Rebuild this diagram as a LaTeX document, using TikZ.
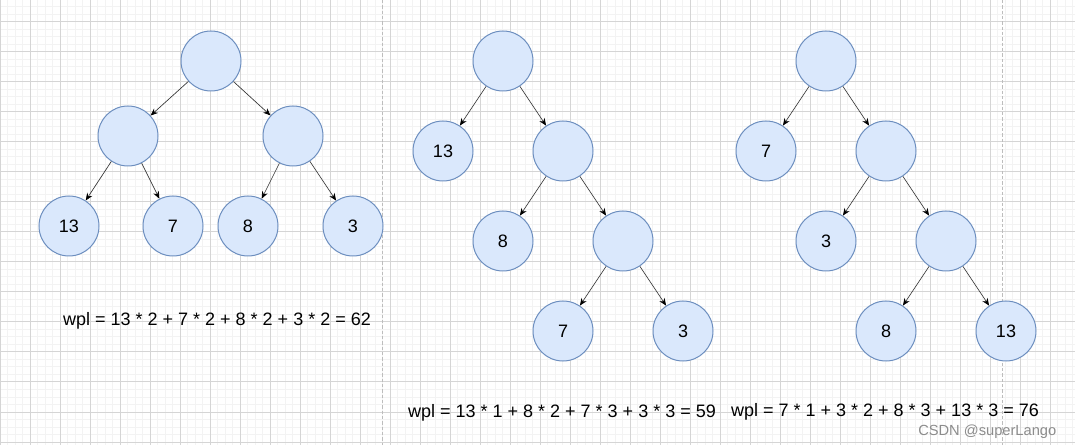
\documentclass[tikz,border=0pt]{standalone}
\usepackage{fontspec}
\setmainfont{Liberation Sans}
\usetikzlibrary{arrows.meta}
\definecolor{nodefill}{HTML}{DAE8FC}
\definecolor{nodeline}{HTML}{6C8EBF}
\definecolor{gridmajor}{HTML}{D5D5D5}
\definecolor{gridminor}{HTML}{F3F3F3}
\definecolor{pageline}{HTML}{BDBDBD}
\tikzset{
	hnode/.style={circle, draw=nodeline, fill=nodefill, line width=0.75pt, minimum size=45pt, inner sep=0pt, font=\fontsize{13.5}{16}\selectfont},
	edge/.style={->, draw=black!80, line width=0.5pt},
	wpl/.style={inner sep=0pt, font=\fontsize{13.5}{16}\selectfont}
}
\begin{document}
\begin{tikzpicture}[x=0.75pt, y=-0.75pt, line cap=butt, >={Stealth[length=5.5pt, width=4.5pt, black]}]
	\useasboundingbox (0,0) rectangle (1075,445);
	\fill[white] (0,0) rectangle (1075,445);
	% grid
	\foreach \gx in {0,7.5,...,1075} \draw[gridminor, line width=0.75pt] (\gx,0) -- (\gx,445);
	\foreach \gy in {-0.5,7,...,445} \draw[gridminor, line width=0.75pt] (0,\gy) -- (1075,\gy);
	\foreach \gx in {0,30,...,1075} \draw[gridmajor, line width=0.75pt] (\gx,0) -- (\gx,445);
	\foreach \gy in {22,52,...,445} \draw[gridmajor, line width=0.75pt] (0,\gy) -- (1075,\gy);
	\draw[pageline, line width=0.75pt, dash pattern=on 2.5pt off 1.5pt] (382,0) -- (382,445) (1002,0) -- (1002,445);
	% tree 1
	\node[hnode] (a0) at (211,61) {};
	\node[hnode] (a1) at (128,136) {};
	\node[hnode] (a2) at (293,136) {};
	\node[hnode] (a3) at (69,226) {13};
	\node[hnode] (a4) at (173,226) {7};
	\node[hnode] (a5) at (248,226) {8};
	\node[hnode] (a6) at (353,226) {3};
	\draw[edge] (a0) -- (a1);
	\draw[edge] (a0) -- (a2);
	\draw[edge] (a1) -- (a3);
	\draw[edge] (a1) -- (a4);
	\draw[edge] (a2) -- (a5);
	\draw[edge] (a2) -- (a6);
	% tree 2
	\node[hnode] (b0) at (503,61) {};
	\node[hnode] (b1) at (443,151) {13};
	\node[hnode] (b2) at (563,151) {};
	\node[hnode] (b3) at (503,241) {8};
	\node[hnode] (b4) at (623,241) {};
	\node[hnode] (b5) at (563,331) {7};
	\node[hnode] (b6) at (683,331) {3};
	\draw[edge] (b0) -- (b1);
	\draw[edge] (b0) -- (b2);
	\draw[edge] (b2) -- (b3);
	\draw[edge] (b2) -- (b4);
	\draw[edge] (b4) -- (b5);
	\draw[edge] (b4) -- (b6);
	% tree 3
	\node[hnode] (c0) at (826,61) {};
	\node[hnode] (c1) at (766,151) {7};
	\node[hnode] (c2) at (886,151) {};
	\node[hnode] (c3) at (826,241) {3};
	\node[hnode] (c4) at (946,241) {};
	\node[hnode] (c5) at (886,331) {8};
	\node[hnode] (c6) at (1006,331) {13};
	\draw[edge] (c0) -- (c1);
	\draw[edge] (c0) -- (c2);
	\draw[edge] (c2) -- (c3);
	\draw[edge] (c2) -- (c4);
	\draw[edge] (c4) -- (c5);
	\draw[edge] (c4) -- (c6);
	% sums
	\node[wpl] (w1) at (217,321) {wpl = 13 * 2 + 7 * 2 + 8 * 2 + 3 * 2 = 62};
	\node[wpl] (w2) at (562,413) {wpl = 13 * 1 + 8 * 2 + 7 * 3 + 3 * 3 = 59};
	\node[wpl] (w3) at (885,412) {wpl = 7 * 1 + 3 * 2 + 8 * 3 + 13 * 3 = 76};
	\node[anchor=west, inner sep=0pt, text=black!45, font=\fontsize{11}{13}\selectfont] (mark) at (918,432) {CSDN @superLango};
\end{tikzpicture}
\end{document}
